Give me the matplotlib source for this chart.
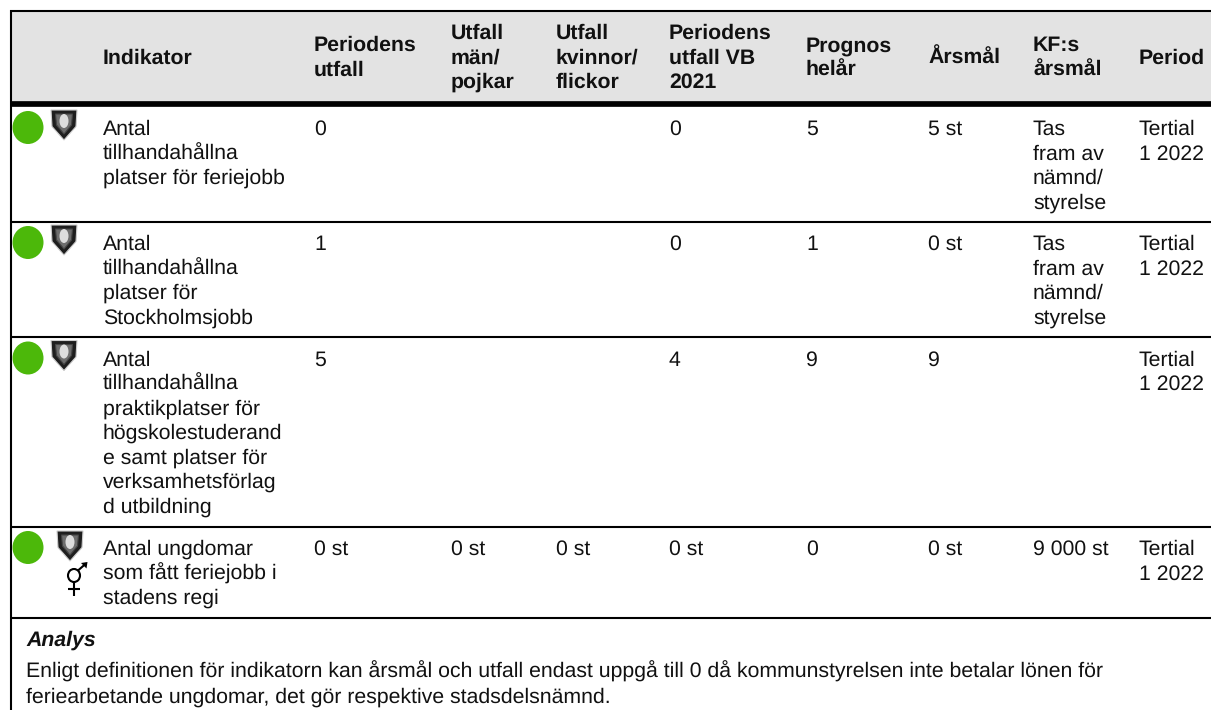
import matplotlib
matplotlib.use('Agg')
import matplotlib.pyplot as plt
from matplotlib.patches import Ellipse, Polygon, Rectangle

plt.rcParams['font.family'] = ['Liberation Sans', 'DejaVu Sans']
plt.rcParams['text.hinting'] = 'none'

# --- Data ---
headers = ['Indikator', 'Periodens\nutfall', 'Utfall\nmän/\npojkar', 'Utfall\nkvinnor/\nflickor',
           'Periodens\nutfall VB\n2021', 'Prognos\nhelår', 'Årsmål', 'KF:s\nårsmål', 'Period']
indikator = ['Antal\ntillhandahållna\nplatser för feriejobb',
             'Antal\ntillhandahållna\nplatser för\nStockholmsjobb',
             'Antal\ntillhandahållna\npraktikplatser för\nhögskolestuderand\ne samt platser för\nverksamhetsförlag\nd utbildning',
             'Antal ungdomar\nsom fått feriejobb i\nstadens regi']
utfall = ['0', '1', '5', '0 st']
utfall_man = ['', '', '', '0 st']
utfall_kvinna = ['', '', '', '0 st']
utfall_vb = ['0', '0', '4', '0 st']
prognos = ['5', '1', '9', '0']
arsmal = ['5 st', '0 st', '9', '0 st']
kf_arsmal = ['Tas\nfram av\nnämnd/\nstyrelse', 'Tas\nfram av\nnämnd/\nstyrelse', '', '9 000 st']
period = ['Tertial\n1 2022'] * 4
has_gender = [False, False, False, True]
analys_title = 'Analys'
analys_lines = ['Enligt definitionen för indikatorn kan årsmål och utfall endast uppgå till 0 då kommunstyrelsen inte betalar lönen för',
                'feriearbetande ungdomar, det gör respektive stadsdelsnämnd.']

# --- Layout, in pixels of the picture ---
COL_X = [103, 314, 451, 556, 669, 806, 928, 1033, 1139]
ROW_LINES = [221.7, 336.7, 526.7, 617.7]
ROW_BASE = [135, 250, 365.5, 555]
LINE_STEP = 24.5
FS = 15.3
GREEN = '#4CB80A'

fig = plt.figure(figsize=(12.11, 7.10), dpi=100)
ax = fig.add_axes([0, 0, 1, 1])
ax.set_xlim(0, 1211)
ax.set_ylim(710, 0)
ax.axis('off')


def cell(x, base, s, **kw):
    for i, line in enumerate(s.split('\n')):
        ax.text(x, base + i * LINE_STEP, line, fontsize=FS, color='#111111', va='baseline', ha='left', **kw)


def shield(cx, top):
    w, h = 13, 30
    outer = [(cx - w, top), (cx + w, top), (cx + w - 1, top + h * 0.55), (cx, top + h), (cx - w + 1, top + h * 0.55)]
    inner = [(cx - w + 4.5, top + 4), (cx + w - 4.5, top + 4), (cx + w - 5.5, top + h * 0.5), (cx, top + h - 6), (cx - w + 5.5, top + h * 0.5)]
    ax.add_patch(Polygon(outer, closed=True, fc='#1e1e1e', ec='#cccccc', lw=0.8, zorder=3))
    ax.add_patch(Polygon(inner, closed=True, fc='#6e6e6e', ec='#444444', lw=0.8, zorder=4))
    ax.add_patch(Ellipse((cx, top + 11), 9, 14, fc='#dddddd', ec='none', zorder=5))


def gender_mark(cx, cy):
    ax.add_patch(Ellipse((cx, cy), 12, 13, fc='none', ec='black', lw=1.5, zorder=3))
    ax.plot([cx, cx], [cy + 6.5, cy + 20], color='black', lw=1.5, solid_capstyle='butt')
    ax.plot([cx - 6, cx + 6], [cy + 13, cy + 13], color='black', lw=1.5, solid_capstyle='butt')
    ax.plot([cx + 4, cx + 12], [cy - 5, cy - 12], color='black', lw=1.5, solid_capstyle='butt')
    ax.add_patch(Polygon([(cx + 13.5, cy - 13.5), (cx + 7, cy - 12.5), (cx + 12.5, cy - 7)], closed=True, fc='black', ec='none', zorder=3))


# header band and rules
ax.add_patch(Rectangle((11, 11), 1200, 92, fc='#E3E3E3', ec='none', zorder=1))
ax.plot([10, 1211], [11, 11], color='black', lw=1.5, zorder=2, solid_capstyle='butt')
ax.plot([11, 11], [10, 710], color='black', lw=1.5, zorder=2, solid_capstyle='butt')
ax.plot([11, 1211], [104, 104], color='black', lw=4.1, zorder=2, solid_capstyle='butt')
for y in ROW_LINES:
    ax.plot([11, 1211], [y, y], color='black', lw=1.5, zorder=2, solid_capstyle='butt')

# header text, vertically centred on the band
for x, h in zip(COL_X, headers):
    n = h.count('\n') + 1
    cell(x, 63.5 - (n - 1) * LINE_STEP / 2, h, fontweight='bold')

# body
columns = [indikator, utfall, utfall_man, utfall_kvinna, utfall_vb, prognos, arsmal, kf_arsmal, period]
for r, base in enumerate(ROW_BASE):
    for x, col in zip(COL_X, columns):
        if col[r]:
            cell(x, base, col[r])
    ax.add_patch(Ellipse((28, base - 7.5), 31, 33, fc=GREEN, ec='none', zorder=3))
    if has_gender[r]:
        shield(70, base - 24)
        gender_mark(74, base + 20.5)
    else:
        shield(64, base - 25)

# analysis block
ax.text(26.5, 646, analys_title, fontsize=FS, fontweight='bold', fontstyle='italic', va='baseline', color='#111111')
for y, line in zip([678, 703], analys_lines):
    ax.text(26, y, line, fontsize=FS, va='baseline', color='#111111')

fig.savefig('out.png', dpi=100)
